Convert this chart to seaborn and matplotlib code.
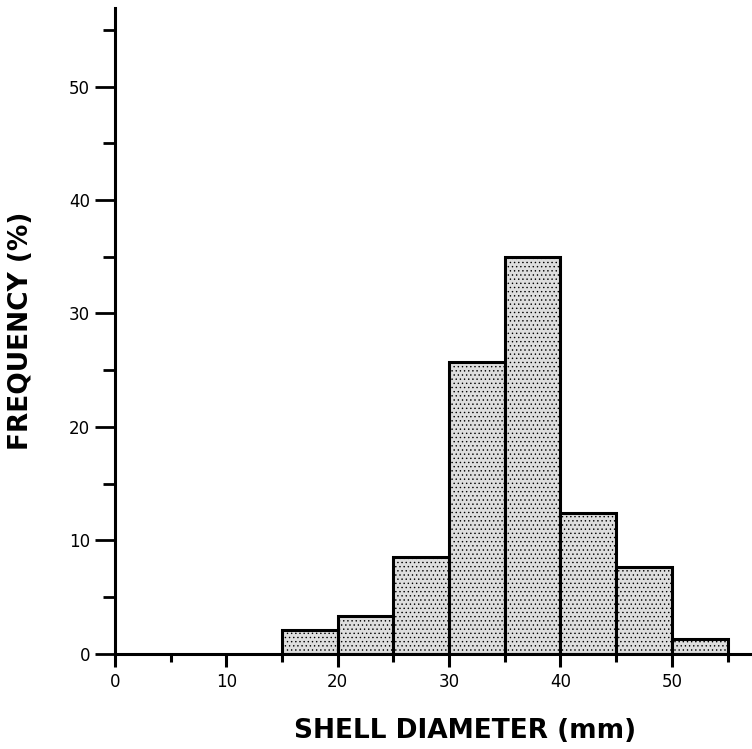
import numpy as np
import matplotlib
matplotlib.use("Agg")
import matplotlib.pyplot as plt
import seaborn as sns

# shell diameter classes (mm), width 5
bin_edges = [15, 20, 25, 30, 35, 40, 45, 50, 55]
frequency = [2.1, 3.3, 8.5, 25.7, 35.0, 12.4, 7.7, 1.3]  # percent

centers = [(a + b) / 2 for a, b in zip(bin_edges[:-1], bin_edges[1:])]

sns.set_style("ticks")
plt.rcParams['font.family'] = ['DejaVu Sans']
plt.rcParams['text.color'] = 'black'
plt.rcParams['axes.labelcolor'] = 'black'
plt.rcParams['xtick.color'] = 'black'
plt.rcParams['ytick.color'] = 'black'
plt.rcParams['axes.edgecolor'] = 'black'
plt.rcParams['hatch.linewidth'] = 0.5

fig = plt.figure(figsize=(7.52, 7.49), dpi=100)
ax = fig.add_axes([0.153, 0.127, 0.847, 0.862])

sns.histplot(x=centers, weights=frequency, bins=bin_edges, ax=ax,
             color="#dedede", alpha=1, edgecolor="black", linewidth=2.2,
             hatch="....")

ax.set_xlim(0, 57.2)
ax.set_ylim(0, 56.9)
ax.set_xticks([0, 10, 20, 30, 40, 50])
ax.set_xticks([5, 15, 25, 35, 45, 55], minor=True)
ax.set_yticks([0, 10, 20, 30, 40, 50])
ax.set_yticks([5, 15, 25, 35, 45, 55], minor=True)

sns.despine(ax=ax)
for s in ["left", "bottom"]:
    ax.spines[s].set_linewidth(2.2)
    ax.spines[s].set_color("black")

ax.tick_params(axis="x", which="major", direction="out", length=9.5, width=2.2,
               labelsize=12, pad=4)
ax.tick_params(axis="x", which="minor", direction="out", length=6, width=2.2)
ax.tick_params(axis="y", which="major", direction="out", length=14.5, width=2.0,
               labelsize=12, pad=3.5)
ax.tick_params(axis="y", which="minor", direction="out", length=8.6, width=2.0)

ax.set_xlabel("SHELL DIAMETER (mm)", fontsize=19, fontweight="bold")
ax.set_ylabel("FREQUENCY (%)", fontsize=19, fontweight="bold")
ax.xaxis.set_label_coords(0.55, -0.10)
ax.yaxis.set_label_coords(-0.128, 0.5)

fig.savefig("out.png", dpi=100)
